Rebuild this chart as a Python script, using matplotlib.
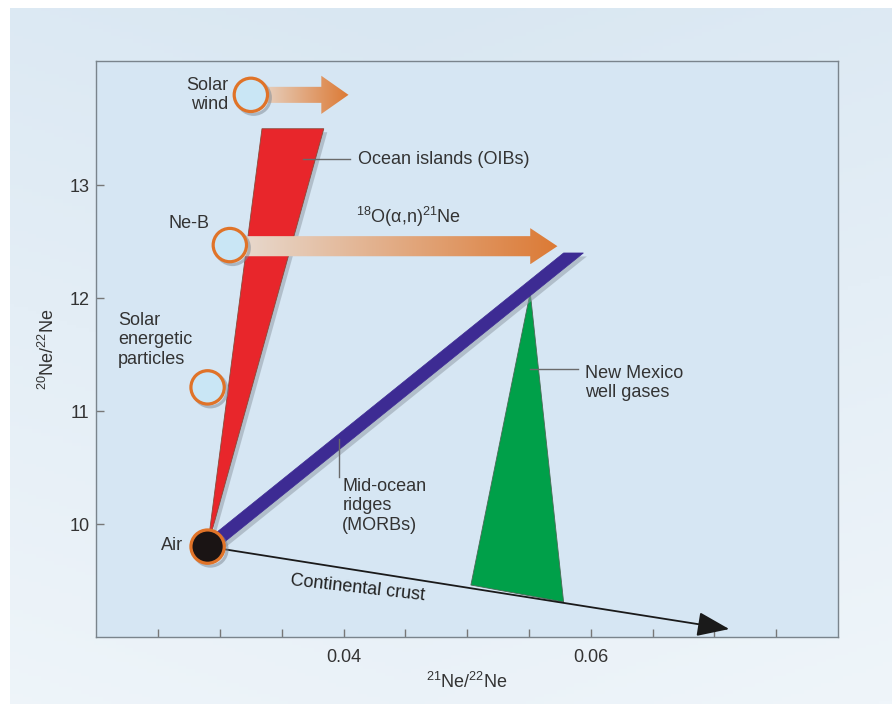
import numpy as np
import matplotlib.pyplot as plt
import matplotlib.patheffects as pe
from matplotlib.patches import Polygon
from matplotlib.colors import LinearSegmentedColormap

plt.rcParams['font.family'] = ['Liberation Sans', 'DejaVu Sans']
plt.rcParams['mathtext.fontset'] = 'custom'
plt.rcParams['mathtext.rm'] = 'Liberation Sans'
plt.rcParams['mathtext.default'] = 'regular'

# Data (21Ne/22Ne, 20Ne/22Ne)
air = (0.029, 9.80)
solar_wind = (0.0325, 13.80)
ne_b = (0.0308, 12.47)
sep = (0.0290, 11.21)

oib_x = [0.0290, 0.0334, 0.0384]
oib_y = [9.80, 13.50, 13.50]

morb_x = [0.0283, 0.0299, 0.0594, 0.0578]
morb_y = [9.80, 9.80, 12.40, 12.40]

nm_x = [0.0551, 0.0578, 0.0503]
nm_y = [12.05, 9.31, 9.46]

crust_end = (0.0712, 9.07)
solar_wind_arrow_end = 0.0404
ne_b_arrow_end = 0.0573

x_ticks = np.arange(0.025, 0.0751, 0.005)
x_tick_labels = ['' if abs(t - 0.04) > 1e-6 and abs(t - 0.06) > 1e-6 else f'{t:.2f}' for t in x_ticks]
y_ticks = [10, 11, 12, 13]

text_c = '#333333'
fs = 13

fig = plt.figure(figsize=(8.92, 7.04), dpi=100, facecolor='white')

# outer light-blue background panel
bg = fig.add_axes([10 / 892, 0, 1 - 10 / 892, 696 / 704])
gy, gx = np.mgrid[0:1:200j, 0:1:200j]
bg_cmap = LinearSegmentedColormap.from_list('bg', ['#d9e7f2', '#eff5fa'])
bg.imshow(0.7 * gy + 0.3 * np.abs(gx - 0.45), cmap=bg_cmap, aspect='auto',
          extent=(0, 1, 0, 1), origin='upper')
bg.set_axis_off()

ax = fig.add_axes([0.108, 0.0952, 0.8315, 0.8182])
ax.set_facecolor('#d6e6f3')

shadow = [pe.SimplePatchShadow(offset=(2.5, -2.5), shadow_rgbFace='#8d98a3', alpha=0.5), pe.Normal()]

# Ocean islands wedge
ax.add_patch(Polygon(list(zip(oib_x, oib_y)), closed=True, facecolor='#e8262b',
                     edgecolor='#8a4a3a', lw=0.6, zorder=2, path_effects=shadow))
# MORB band
ax.add_patch(Polygon(list(zip(morb_x, morb_y)), closed=True, facecolor='#3d2b93',
                     edgecolor='#3d2b93', lw=0.5, zorder=3, path_effects=shadow))
# New Mexico well gases
ax.add_patch(Polygon(list(zip(nm_x, nm_y)), closed=True, facecolor='#00a049',
                     edgecolor='#4a6a55', lw=0.6, zorder=2))

# continental crust arrow
ax.annotate('', xy=crust_end, xytext=air, zorder=4,
            arrowprops=dict(arrowstyle='-|>,head_length=1.0,head_width=0.38', color='#1a1a1a',
                            lw=1.3, mutation_scale=20, shrinkA=0, shrinkB=0))

arrow_cmap = LinearSegmentedColormap.from_list('arr', ['#e8ddd4', '#dc7a35'])


def gradient_arrow(x0, x1, y, body_h, head_h, head_l):
    hx = x1 - head_l
    pts = [(x0, y - body_h), (hx, y - body_h), (hx, y - head_h), (x1, y),
           (hx, y + head_h), (hx, y + body_h), (x0, y + body_h)]
    poly = Polygon(pts, closed=True, facecolor='none', edgecolor='none')
    ax.add_patch(poly)
    grad = np.linspace(0, 1, 256).reshape(1, -1)
    im = ax.imshow(grad, cmap=arrow_cmap, aspect='auto', zorder=3.5,
                   extent=(x0, x1, y - head_h, y + head_h))
    im.set_clip_path(poly)


gradient_arrow(solar_wind[0], solar_wind_arrow_end, solar_wind[1], 0.071, 0.169, 0.0022)
gradient_arrow(ne_b[0], ne_b_arrow_end, ne_b[1] - 0.01, 0.089, 0.16, 0.0022)

# circles
mshadow = [pe.SimpleLineShadow(offset=(2, -2), shadow_color='#7d8893', alpha=0.5), pe.Normal()]
for pt in [solar_wind, ne_b, sep]:
    ax.plot(*pt, 'o', ms=24, mfc='#c9e6f5', mec='#e07328', mew=2.3, zorder=5,
            path_effects=mshadow)
ax.plot(*air, 'o', ms=24, mfc='#1a1414', mec='#e07328', mew=2.3, zorder=5,
        path_effects=mshadow)

# leader lines
lc = '#6a6a6a'
ax.plot([0.0367, 0.0405], [13.23, 13.23], color=lc, lw=1, zorder=4)
ax.plot([0.0551, 0.0590], [11.37, 11.37], color=lc, lw=1, zorder=4)
ax.plot([0.0396, 0.0396], [10.75, 10.42], color=lc, lw=1, zorder=4)

# labels
ax.text(0.03067, 13.80, 'Solar\nwind', ha='right', va='center', fontsize=fs, color=text_c)
ax.text(0.0412, 13.23, 'Ocean islands (OIBs)', ha='left', va='center', fontsize=fs, color=text_c)
ax.text(0.0410, 12.72, '$^{18}$O(α,n)$^{21}$Ne', ha='left', va='center', fontsize=fs, color=text_c)
ax.text(0.02913, 12.66, 'Ne-B', ha='right', va='center', fontsize=fs, color=text_c)
ax.text(0.02176, 11.63, 'Solar\nenergetic\nparticles', ha='left', va='center', fontsize=fs, color=text_c)
ax.text(0.0595, 11.25, 'New Mexico\nwell gases', ha='left', va='center', fontsize=fs, color=text_c)
ax.text(0.0399, 10.16, 'Mid-ocean\nridges\n(MORBs)', ha='left', va='center', fontsize=fs, color=text_c)
ax.text(0.02703, 9.81, 'Air', ha='right', va='center', fontsize=fs, color=text_c)
ax.text(0.0411, 9.43, 'Continental crust', ha='center', va='center', fontsize=fs,
        color='#222222', rotation=-6.5)

ax.set_xlim(0.02, 0.08)
ax.set_ylim(9.0, 14.1)
ax.set_xticks(x_ticks)
ax.set_xticklabels(x_tick_labels)
ax.set_yticks(y_ticks)
ax.tick_params(direction='in', length=6, width=1, color='#777777', labelcolor=text_c,
               labelsize=fs)
ax.tick_params(axis='x', pad=9)
ax.tick_params(axis='y', pad=5)
for s in ax.spines.values():
    s.set_color('#7a848c')
    s.set_linewidth(1)

ax.set_xlabel('$^{21}$Ne/$^{22}$Ne', fontsize=fs, color=text_c, labelpad=4)
ax.set_ylabel('$^{20}$Ne/$^{22}$Ne', fontsize=fs, color=text_c, labelpad=8)

fig.savefig('out.png', dpi=100, facecolor='white')
